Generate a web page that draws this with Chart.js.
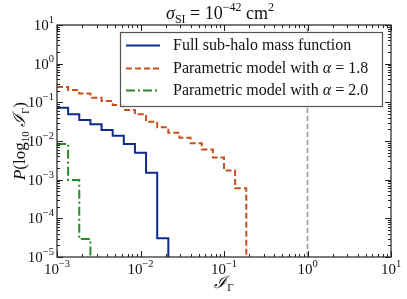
<!DOCTYPE html>
<html>
<head>
<meta charset="utf-8">
<script src="https://cdn.jsdelivr.net/npm/chart.js@4"></script>
<style>
  html, body { margin: 0; padding: 0; background: #fff; }
  #wrap { width: 407px; height: 299px; position: relative; }
</style>
</head>
<body>
<div id="wrap"><canvas id="chart" width="407" height="299"></canvas></div>
<script>
// -------------------------------
// Data
// -------------------------------
// histogram bin edges (I_Gamma), shared by all three series
const binEdges = [1.000e-3, 1.359e-3, 1.848e-3, 2.512e-3, 3.415e-3, 4.642e-3,
  6.310e-3, 8.577e-3, 1.166e-2, 1.585e-2, 2.154e-2, 2.929e-2, 3.981e-2,
  5.412e-2, 7.356e-2, 0.1, 0.1359, 0.1848];

const fullValues = [0.0728, 0.0491, 0.035, 0.0271, 0.0193, 0.0137, 0.0084,
  0.0050, 0.0015, 3.05e-5];
const alpha18Values = [0.249, 0.209, 0.168, 0.132, 0.108, 0.0855, 0.0635,
  0.049, 0.0316, 0.0227, 0.0164, 0.0122, 0.0087, 0.0060, 0.00375, 0.00173,
  0.0006];
const alpha20Values = [0.0084, 0.00098, 2.9e-5];

const seriesLabels = [
  "Full sub-halo mass function",
  "Parametric model with \u03b1 = 1.8",
  "Parametric model with \u03b1 = 2.0"
];
const xTickExps = [-3, -2, -1, 0, 1];
const yTickExps = [-5, -4, -3, -2, -1, 0, 1];
const markerLine = 1; // vertical dashed line at I_Gamma = 1

const colors = ["#0d2b8e", "#c8501c", "#2a8a2a"];
const dashes = [[], [6, 3], [9, 3, 2, 3]];

const SERIF = '"Liberation Serif", "DejaVu Serif", serif';

// step histogram -> points; last point drops below the axis
function toSteps(values) {
  const pts = values.map((v, i) => ({ x: binEdges[i], y: v }));
  pts.push({ x: binEdges[values.length], y: 1e-7 });
  return pts;
}

// -------------------------------
// Frame, ticks, labels, legend
// -------------------------------
function drawPow(ctx, x, y, exp, align) {
  const base = "10", sup = String(exp).replace("-", "\u2212");
  ctx.font = "15px " + SERIF;
  const wb = ctx.measureText(base).width;
  ctx.font = "10.5px " + SERIF;
  const ws = ctx.measureText(sup).width;
  const total = wb + ws;
  let x0 = x;
  if (align === "center") x0 = x - total / 2;
  if (align === "right") x0 = x - total;
  ctx.textAlign = "left";
  ctx.textBaseline = "alphabetic";
  ctx.font = "15px " + SERIF;
  ctx.fillText(base, x0, y);
  ctx.font = "10.5px " + SERIF;
  ctx.fillText(sup, x0 + wb, y - 7);
}

// draw a run of [font, text, dy] pieces starting at x, return end x
function drawRun(ctx, parts, x, y) {
  parts.forEach(p => {
    ctx.font = p[0] + " " + SERIF;
    ctx.fillText(p[1], x, y + (p[2] || 0));
    x += ctx.measureText(p[1]).width;
  });
  return x;
}
function runWidth(ctx, parts) {
  let w = 0;
  parts.forEach(p => { ctx.font = p[0] + " " + SERIF; w += ctx.measureText(p[1]).width; });
  return w;
}

const framePlugin = {
  id: "frame",
  beforeDatasetsDraw(chart) {
    const { ctx, chartArea: a, scales } = chart;
    // gray vertical marker
    const px = scales.x.getPixelForValue(markerLine);
    ctx.save();
    ctx.strokeStyle = "#9a9a9a";
    ctx.lineWidth = 1.6;
    ctx.setLineDash([5, 3]);
    ctx.beginPath();
    ctx.moveTo(px, a.bottom);
    ctx.lineTo(px, a.top);
    ctx.stroke();
    ctx.restore();
  },
  afterDatasetsDraw(chart) {
    const { ctx, chartArea: a, scales } = chart;
    const xs = scales.x, ys = scales.y;
    ctx.save();
    ctx.strokeStyle = "#222";
    ctx.fillStyle = "#222";
    ctx.lineWidth = 1;

    // ticks on all four sides, pointing inward
    ctx.beginPath();
    for (let e = xTickExps[0]; e <= xTickExps[xTickExps.length - 1]; e++) {
      for (let m = 1; m <= 9; m++) {
        if (e === xTickExps[xTickExps.length - 1] && m > 1) break;
        const p = Math.round(xs.getPixelForValue(m * Math.pow(10, e))) + 0.5;
        const len = m === 1 ? 6 : 3;
        ctx.moveTo(p, a.bottom); ctx.lineTo(p, a.bottom - len);
        ctx.moveTo(p, a.top); ctx.lineTo(p, a.top + len);
      }
    }
    for (let e = yTickExps[0]; e <= yTickExps[yTickExps.length - 1]; e++) {
      for (let m = 1; m <= 9; m++) {
        if (e === yTickExps[yTickExps.length - 1] && m > 1) break;
        const p = Math.round(ys.getPixelForValue(m * Math.pow(10, e))) + 0.5;
        const len = m === 1 ? 6 : 3;
        ctx.moveTo(a.left, p); ctx.lineTo(a.left + len, p);
        ctx.moveTo(a.right, p); ctx.lineTo(a.right - len, p);
      }
    }
    ctx.stroke();

    // box
    ctx.lineWidth = 1.2;
    ctx.strokeRect(a.left, a.top, a.right - a.left, a.bottom - a.top);

    // tick labels
    ctx.fillStyle = "#111";
    xTickExps.forEach(e => {
      drawPow(ctx, xs.getPixelForValue(Math.pow(10, e)), a.bottom + 17, e, "center");
    });
    yTickExps.forEach(e => {
      drawPow(ctx, a.left - 3, ys.getPixelForValue(Math.pow(10, e)) + 5, e, "right");
    });

    // legend
    const lx = 120.5, ly = 32.5, lw = 262, lh = 74;
    ctx.fillStyle = "rgba(255,255,255,0.85)";
    ctx.fillRect(lx, ly, lw, lh);
    ctx.strokeStyle = "#555";
    ctx.lineWidth = 1.2;
    ctx.strokeRect(lx, ly, lw, lh);
    const rows = [45.5, 68.5, 90.5];
    seriesLabels.forEach((lab, i) => {
      ctx.strokeStyle = colors[i];
      ctx.lineWidth = 2;
      ctx.setLineDash(dashes[i]);
      ctx.beginPath();
      ctx.moveTo(126, rows[i]);
      ctx.lineTo(160, rows[i]);
      ctx.stroke();
      ctx.setLineDash([]);
      ctx.fillStyle = "#111";
      ctx.textAlign = "left";
      ctx.textBaseline = "middle";
      if (i === 0) {
        ctx.font = "16px " + SERIF;
        ctx.fillText(lab, 173, rows[i]);
      } else {
        drawRun(ctx, [["16px", "Parametric model with "], ["italic 16px", "\u03b1"],
          ["16px", " = " + (i === 1 ? "1.8" : "2.0")]], 173, rows[i]);
      }
    });

    // title: sigma_SI = 10^-42 cm^2
    ctx.fillStyle = "#111";
    ctx.textBaseline = "alphabetic";
    ctx.textAlign = "left";
    const title = [["italic 18px", "\u03c3"], ["12px", "SI", 4], ["18px", " = 10"],
      ["12px", "\u221242", -8], ["18px", " cm"], ["12px", "2", -8]];
    drawRun(ctx, title, 220 - runWidth(ctx, title) / 2, 19);

    // x axis title: I_Gamma
    const cx = (a.left + a.right) / 2;
    const xl = [["italic 17px", "\u2110"], ["11px", "\u0393", 3]];
    drawRun(ctx, xl, cx - runWidth(ctx, xl) / 2, 288);

    // y axis title: P(log10 I_Gamma)
    ctx.translate(20, (a.top + a.bottom) / 2);
    ctx.rotate(-Math.PI / 2);
    const yl = [["italic 17px", "P"], ["17px", "(log"], ["11px", "10", 4],
      ["italic 17px", " \u2110"], ["11px", "\u0393", 4], ["17px", ")"]];
    drawRun(ctx, yl, -runWidth(ctx, yl) / 2, 5);
    ctx.restore();
  }
};

const seriesValues = [fullValues, alpha18Values, alpha20Values];

new Chart(document.getElementById("chart"), {
  type: "line",
  data: {
    datasets: seriesValues.map((vals, i) => ({
      label: seriesLabels[i],
      data: toSteps(vals),
      borderColor: colors[i],
      borderWidth: 2,
      borderDash: dashes[i],
      stepped: "before",
      pointRadius: 0,
      fill: false
    }))
  },
  options: {
    responsive: false,
    animation: false,
    layout: { padding: { left: 57, top: 25, right: 16, bottom: 42 } },
    plugins: { legend: { display: false }, tooltip: { enabled: false } },
    scales: {
      x: { type: "logarithmic", min: 1e-3, max: 10, display: false },
      y: { type: "logarithmic", min: 1e-5, max: 10, display: false }
    }
  },
  plugins: [framePlugin]
});
</script>
</body>
</html>
